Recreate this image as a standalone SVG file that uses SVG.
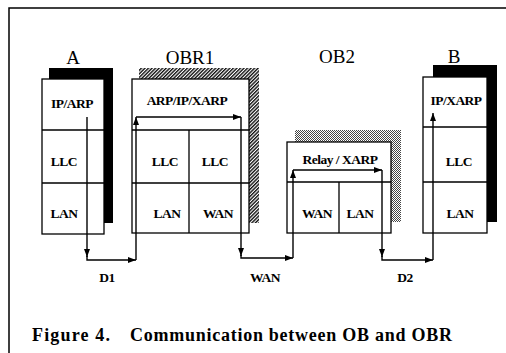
<svg xmlns="http://www.w3.org/2000/svg" width="506" height="353" viewBox="0 0 506 353">
<style>
.box{fill:#fff;stroke:#000;stroke-width:1.3}
.div{stroke:#000;stroke-width:1.3;fill:none}
.conn{stroke:#000;stroke-width:1.4;fill:none}
.lay{font-family:"Liberation Serif",serif;font-weight:bold;font-size:13.5px;text-anchor:middle;letter-spacing:-0.5px}
.ttl{font-family:"Liberation Serif",serif;font-size:19px;text-anchor:middle}
.lbl{font-family:"Liberation Serif",serif;font-weight:bold;font-size:13.5px;text-anchor:middle;letter-spacing:-0.5px}
.cap{font-family:"Liberation Serif",serif;font-weight:bold;font-size:18px}
</style>
<defs>
<marker id="ah" markerUnits="userSpaceOnUse" markerWidth="8" markerHeight="6" refX="8" refY="3" orient="auto">
<path d="M0,0 L8,3 L0,6 z" fill="#000"/>
</marker>
<pattern id="hatch" patternUnits="userSpaceOnUse" width="2.5" height="2.5" patternTransform="rotate(45)">
<rect width="2.5" height="2.5" fill="#fff"/>
<rect width="1.4" height="2.5" fill="#111"/>
</pattern>
<pattern id="dots" patternUnits="userSpaceOnUse" width="2" height="2">
<rect width="2" height="2" fill="#fff"/>
<rect width="1" height="1" fill="#444"/>
<rect x="1" y="1" width="1" height="1" fill="#444"/>
</pattern>
</defs>
<rect width="506" height="353" fill="#fff"/>
<path d="M9,353 V8 H506" fill="none" stroke="#000" stroke-width="1.5"/>

<g id="node-A">
<rect x="49" y="68" width="64" height="155" fill="#000"/>
<rect class="box" x="42" y="79" width="62" height="155"/>
<path class="div" d="M42,130 H104 M42,183 H104"/>
<text class="ttl" x="73" y="64">A</text>
<text class="lay" x="72" y="108">IP/ARP</text>
<text class="lay" x="64" y="166">LLC</text>
<text class="lay" x="64" y="218">LAN</text>
</g>

<g id="node-OBR1">
<rect x="139" y="68" width="120" height="155" fill="url(#hatch)"/>
<rect class="box" x="132" y="79" width="117" height="154"/>
<path class="div" d="M132,130 H249 M132,183 H249 M189,130 V233"/>
<text class="ttl" x="190" y="64">OBR1</text>
<text class="lay" x="187" y="105">ARP/IP/XARP</text>
<text class="lay" x="165" y="166">LLC</text>
<text class="lay" x="215" y="166">LLC</text>
<text class="lay" x="167" y="218">LAN</text>
<text class="lay" x="218" y="218">WAN</text>
</g>

<g id="node-OB2">
<rect x="295" y="130" width="106" height="92" fill="url(#dots)"/>
<rect class="box" x="287" y="142" width="104" height="91"/>
<path class="div" d="M287,182 H391 M339,182 V233"/>
<text class="ttl" x="337" y="63">OB2</text>
<text class="lay" x="340" y="164">Relay / XARP</text>
<text class="lay" x="317" y="218">WAN</text>
<text class="lay" x="360" y="218">LAN</text>
</g>

<g id="node-B">
<rect x="433" y="65" width="64" height="157" fill="#000"/>
<rect class="box" x="423" y="77" width="64" height="156"/>
<path class="div" d="M423,127 H487 M423,182 H487"/>
<text class="ttl" x="454" y="63">B</text>
<text class="lay" x="456" y="105">IP/XARP</text>
<text class="lay" x="459" y="166">LLC</text>
<text class="lay" x="460" y="218">LAN</text>
</g>

<g id="connectors">
<path class="conn" d="M87,117 V257" marker-end="url(#ah)"/>
<path class="conn" d="M87,256 V260 H136" marker-end="url(#ah)"/>
<path class="conn" d="M136,260 V117" marker-end="url(#ah)"/>
<path class="conn" d="M136,117 H241" marker-end="url(#ah)"/>
<path class="conn" d="M241,117 V256" marker-end="url(#ah)"/>
<path class="conn" d="M241,255 V258 H293" marker-end="url(#ah)"/>
<path class="conn" d="M293,258 V170" marker-end="url(#ah)"/>
<path class="conn" d="M293,170 H382" marker-end="url(#ah)"/>
<path class="conn" d="M382,170 V257" marker-end="url(#ah)"/>
<path class="conn" d="M382,256 V260 H433" marker-end="url(#ah)"/>
<path class="conn" d="M433,260 V113" marker-end="url(#ah)"/>
</g>

<g id="labels">
<text class="lbl" x="107" y="282">D1</text>
<text class="lbl" x="265" y="282">WAN</text>
<text class="lbl" x="405" y="282">D2</text>
</g>

<text class="cap" x="32" y="341" textLength="78" lengthAdjust="spacing">Figure 4.</text>
<text class="cap" x="130" y="341" textLength="322" lengthAdjust="spacing">Communication between OB and OBR</text>
</svg>
